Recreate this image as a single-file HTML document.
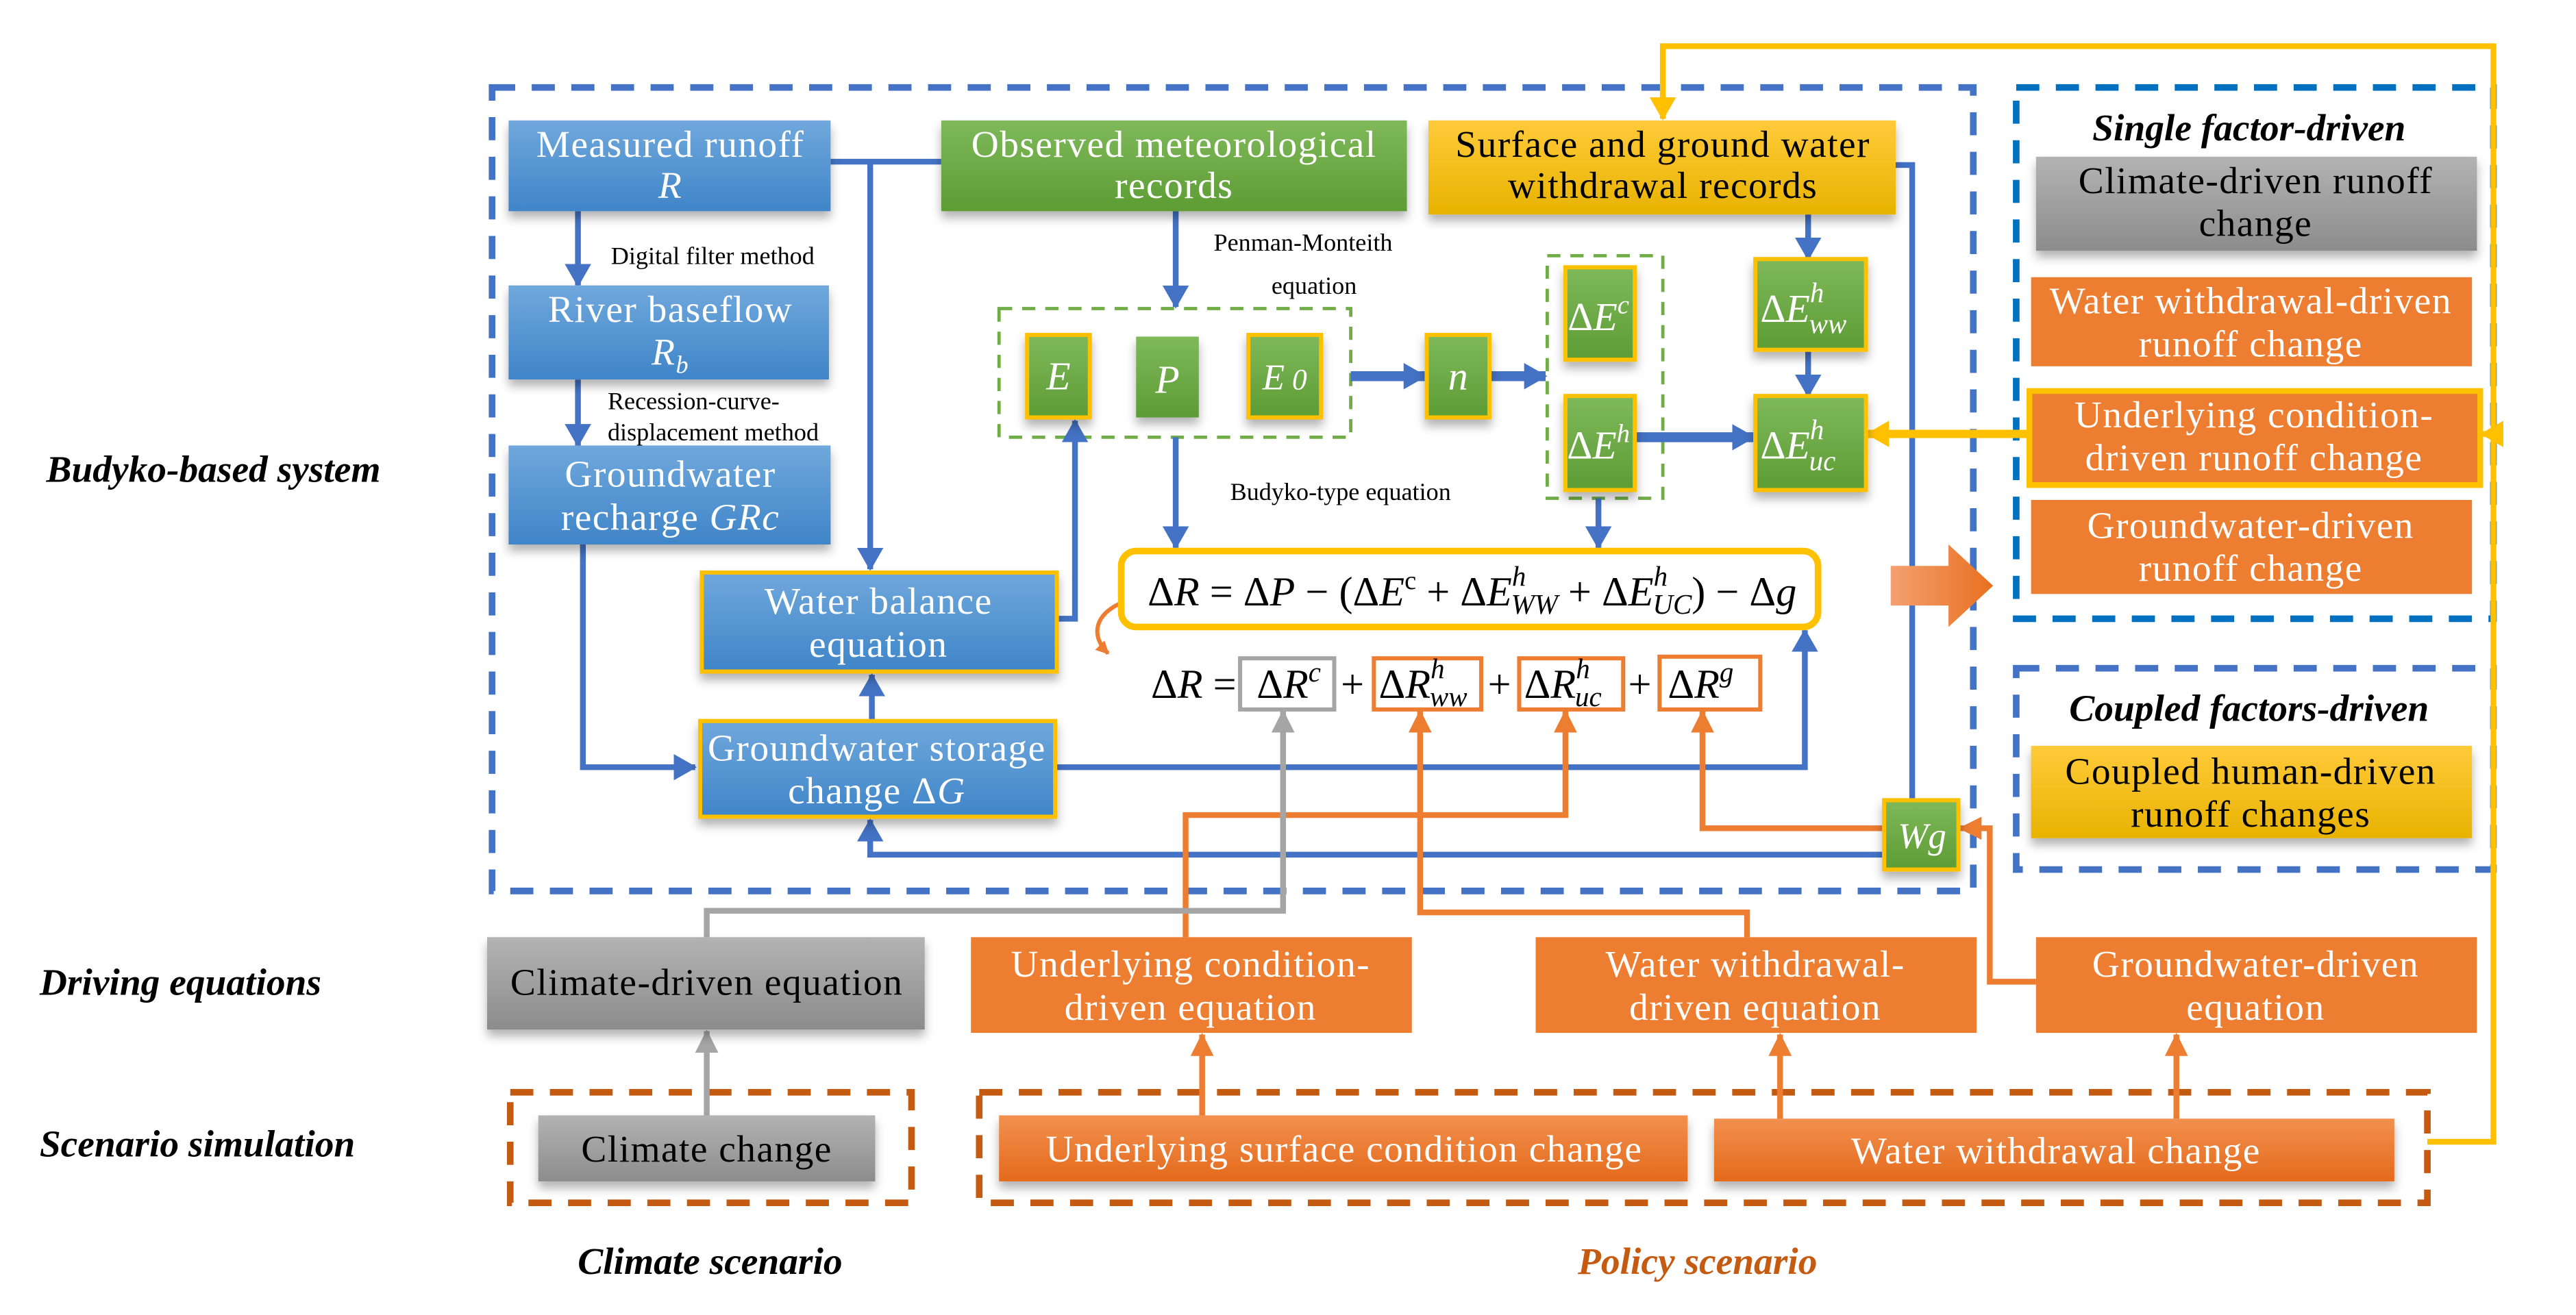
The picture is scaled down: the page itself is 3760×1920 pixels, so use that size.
<!DOCTYPE html>
<html><head><meta charset="utf-8"><style>
html,body{margin:0;padding:0;background:#fff;}
svg{display:block;}
text{font-family:"Liberation Serif",serif;}
</style></head><body>
<svg width="3760" height="1920" viewBox="0 0 1560 797" preserveAspectRatio="none" xmlns="http://www.w3.org/2000/svg">
<defs>
<linearGradient id="gb" x1="0" y1="0" x2="0" y2="1"><stop offset="0" stop-color="#70a8dc"/><stop offset="1" stop-color="#3f85c8"/></linearGradient>
<linearGradient id="gg" x1="0" y1="0" x2="0" y2="1"><stop offset="0" stop-color="#7fb95a"/><stop offset="1" stop-color="#5d9c34"/></linearGradient>
<linearGradient id="gy" x1="0" y1="0" x2="0" y2="1"><stop offset="0" stop-color="#ffca3a"/><stop offset="1" stop-color="#e8b300"/></linearGradient>
<linearGradient id="gr" x1="0" y1="0" x2="0" y2="1"><stop offset="0" stop-color="#b3b3b3"/><stop offset="1" stop-color="#8c8c8c"/></linearGradient>
<linearGradient id="go" x1="0" y1="0" x2="0" y2="1"><stop offset="0" stop-color="#f2904e"/><stop offset="1" stop-color="#e46a1c"/></linearGradient>
<linearGradient id="ga" x1="0" y1="0" x2="1" y2="0"><stop offset="0" stop-color="#f4a070"/><stop offset="1" stop-color="#e8701f"/></linearGradient>
<filter id="sh" x="-10%" y="-10%" width="120%" height="140%"><feDropShadow dx="0" dy="4" stdDeviation="3" flood-color="#000" flood-opacity="0.3"/></filter>
<marker id="ab2" markerWidth="14" markerHeight="16" refX="13" refY="8" orient="auto" markerUnits="userSpaceOnUse"><path d="M0,0L14,8L0,16z" fill="#4472c4"/></marker>
<marker id="ao" markerWidth="14" markerHeight="14" refX="13" refY="7" orient="auto" markerUnits="userSpaceOnUse"><path d="M0,0L14,7L0,14z" fill="#ed7d31"/></marker>
<marker id="ao2" markerWidth="8" markerHeight="8" refX="7" refY="4" orient="auto" markerUnits="userSpaceOnUse"><path d="M0,0L8,4L0,8z" fill="#ed7d31"/></marker>
<marker id="ag" markerWidth="14" markerHeight="14" refX="13" refY="7" orient="auto" markerUnits="userSpaceOnUse"><path d="M0,0L14,7L0,14z" fill="#a5a5a5"/></marker>
<marker id="ay" markerWidth="14" markerHeight="16" refX="13" refY="8" orient="auto" markerUnits="userSpaceOnUse"><path d="M0,0L14,8L0,16z" fill="#ffc000"/></marker>
</defs>

<rect x="298" y="53" width="897" height="487" fill="none" stroke="#4472c4" stroke-width="4" stroke-dasharray="14,10"/>
<rect x="1221" y="53" width="289" height="322" fill="none" stroke="#0070c0" stroke-width="4" stroke-dasharray="14,10"/>
<rect x="1221" y="405" width="289" height="122" fill="none" stroke="#4472c4" stroke-width="4" stroke-dasharray="14,10"/>
<rect x="309" y="662" width="243" height="67" fill="none" stroke="#c55a11" stroke-width="4" stroke-dasharray="14,10"/>
<rect x="593" y="662" width="877" height="67" fill="none" stroke="#c55a11" stroke-width="4" stroke-dasharray="14,10"/>
<rect x="605" y="187" width="213" height="78" fill="none" stroke="#70ad47" stroke-width="2" stroke-dasharray="8,6"/>
<rect x="937" y="155" width="70" height="147" fill="none" stroke="#70ad47" stroke-width="2" stroke-dasharray="8,6"/>

<g font-weight="bold" font-style="italic" font-size="23" fill="#000">
<text x="28" y="292">Budyko-based system</text>
<text x="24" y="603">Driving equations</text>
<text x="24" y="701">Scenario simulation</text>
<text x="430" y="772" text-anchor="middle">Climate scenario</text>
<text x="1028" y="772" text-anchor="middle" fill="#c55a11">Policy scenario</text>
<text x="1362" y="85" text-anchor="middle">Single factor-driven</text>
<text x="1362" y="437" text-anchor="middle">Coupled factors-driven</text>
</g>

<g stroke="#4472c4" stroke-width="3.5" fill="none">
<path d="M503,98H570"/>
<path d="M527,98V345" marker-end="url(#ab2)"/>
<path d="M350,128V173" marker-end="url(#ab2)"/>
<path d="M350,230V270" marker-end="url(#ab2)"/>
<path d="M353,330V465H421" marker-end="url(#ab2)"/>
<path d="M712,128V186" marker-end="url(#ab2)"/>
<path d="M712,265V332" marker-end="url(#ab2)"/>
<path d="M640,375H651V255" marker-end="url(#ab2)"/>
<path d="M528,437V409" marker-end="url(#ab2)"/>
<path d="M639,465H1093V382" marker-end="url(#ab2)"/>
<path d="M1140,518H527V497" marker-end="url(#ab2)"/>
<path d="M1148,100H1158V484"/>
<path d="M1095,130V157" marker-end="url(#ab2)"/>
<path d="M1095,212V240" marker-end="url(#ab2)"/>
<path d="M818,228H863" stroke-width="6" marker-end="url(#ab2)"/>
<path d="M902,228H936" stroke-width="6" marker-end="url(#ab2)"/>
<path d="M990,265H1062" stroke-width="6" marker-end="url(#ab2)"/>
<path d="M968,302V332" marker-end="url(#ab2)"/>
</g>
<g stroke="#ffc000" stroke-width="3.5" fill="none">
<path d="M1470,692H1510V28H1007V72" marker-end="url(#ay)"/>
<path d="M1510,263H1503" marker-end="url(#ay)"/>
<path d="M1228,263H1131" stroke-width="5" marker-end="url(#ay)"/>
</g>
<g stroke="#ed7d31" stroke-width="3.5" fill="none">
<path d="M718,568V494H948V431" marker-end="url(#ao)"/>
<path d="M1058,568V553H860V431" marker-end="url(#ao)"/>
<path d="M1233,595H1205V502H1187" marker-end="url(#ao)"/>
<path d="M1140,502H1031V431" marker-end="url(#ao)"/>
<path d="M728,676V627" marker-end="url(#ao)"/>
<path d="M1078,678V627" marker-end="url(#ao)"/>
<path d="M1318,678V627" marker-end="url(#ao)"/>
<path d="M680,365C663,372 660,385 671,396" stroke-width="2.5" marker-end="url(#ao2)"/>
</g>
<g stroke="#a5a5a5" stroke-width="3.5" fill="none">
<path d="M428,568V552H777V431" marker-end="url(#ag)"/>
<path d="M428,676V625" marker-end="url(#ag)"/>
</g>

<path d="M1145,343H1180V330L1207,355L1180,380V367H1145Z" fill="url(#ga)"/>

<g filter="url(#sh)">
<rect x="308" y="73" width="195" height="55" fill="url(#gb)"/>
<rect x="570" y="73" width="282" height="55" fill="url(#gg)"/>
<rect x="865" y="73" width="283" height="57" fill="url(#gy)"/>
<rect x="308" y="173" width="194" height="57" fill="url(#gb)"/>
<rect x="308" y="270" width="195" height="60" fill="url(#gb)"/>
<rect x="425" y="347" width="215" height="60" fill="url(#gb)" stroke="#ffc000" stroke-width="2.5"/>
<rect x="424" y="437" width="215" height="58" fill="url(#gb)" stroke="#ffc000" stroke-width="2.5"/>
<rect x="622" y="203" width="38" height="50" fill="url(#gg)" stroke="#ffc000" stroke-width="2.5"/>
<rect x="688" y="204" width="38" height="49" fill="url(#gg)"/>
<rect x="756" y="203" width="44" height="50" fill="url(#gg)" stroke="#ffc000" stroke-width="2.5"/>
<rect x="864" y="203" width="38" height="50" fill="url(#gg)" stroke="#ffc000" stroke-width="2.5"/>
<rect x="948" y="162" width="42" height="56" fill="url(#gg)" stroke="#ffc000" stroke-width="2.5"/>
<rect x="948" y="240" width="42" height="57" fill="url(#gg)" stroke="#ffc000" stroke-width="2.5"/>
<rect x="1063" y="157" width="67" height="55" fill="url(#gg)" stroke="#ffc000" stroke-width="2.5"/>
<rect x="1063" y="240" width="67" height="57" fill="url(#gg)" stroke="#ffc000" stroke-width="2.5"/>
<rect x="1141" y="485" width="45" height="42" fill="url(#gg)" stroke="#ffc000" stroke-width="2.5"/>
<rect x="1233" y="95" width="267" height="57" fill="url(#gr)"/>
<rect x="1230" y="452" width="267" height="56" fill="url(#gy)"/>
<rect x="295" y="568" width="265" height="56" fill="url(#gr)"/>
<rect x="326" y="676" width="204" height="40" fill="url(#gr)"/>
<rect x="605" y="676" width="417" height="40" fill="url(#go)"/>
<rect x="1038" y="678" width="412" height="38" fill="url(#go)"/>
</g>
<rect x="1230" y="168" width="267" height="54" fill="#ed7d31"/>
<rect x="1229" y="237" width="273" height="57" fill="#ed7d31" stroke="#ffc000" stroke-width="3.5"/>
<rect x="1230" y="303" width="267" height="57" fill="#ed7d31"/>
<rect x="588" y="568" width="267" height="58" fill="#ed7d31"/>
<rect x="930" y="568" width="267" height="58" fill="#ed7d31"/>
<rect x="1233" y="568" width="267" height="58" fill="#ed7d31"/>

<rect x="679" y="334" width="422" height="46" rx="9" fill="#fff" stroke="#ffc000" stroke-width="4"/>
<rect x="751" y="399" width="57" height="31" fill="#fff" stroke="#a5a5a5" stroke-width="2.5"/>
<rect x="832" y="399" width="65" height="31" fill="#fff" stroke="#ed7d31" stroke-width="2.5"/>
<rect x="920" y="399" width="63" height="31" fill="#fff" stroke="#ed7d31" stroke-width="2.5"/>
<rect x="1005" y="398" width="61" height="32" fill="#fff" stroke="#ed7d31" stroke-width="2.5"/>

<g font-size="23" letter-spacing="0.6" text-anchor="middle" fill="#fff">
<text x="406" y="95">Measured runoff</text>
<text x="406" y="120" font-style="italic">R</text>
<text x="711" y="95">Observed meteorological</text>
<text x="711" y="120">records</text>
<text x="406" y="195">River baseflow</text>
<text x="406" y="221" font-style="italic">R<tspan font-size="15" dy="5">b</tspan></text>
<text x="406" y="295">Groundwater</text>
<text x="406" y="321">recharge <tspan font-style="italic">GRc</tspan></text>
<text x="532" y="372">Water balance</text>
<text x="532" y="398">equation</text>
<text x="531" y="461">Groundwater storage</text>
<text x="531" y="487">change Δ<tspan font-style="italic">G</tspan></text>
<text x="1363" y="190">Water withdrawal-driven</text>
<text x="1363" y="216">runoff change</text>
<text x="1365" y="259">Underlying condition-</text>
<text x="1365" y="285">driven runoff change</text>
<text x="1363" y="326">Groundwater-driven</text>
<text x="1363" y="352">runoff change</text>
<text x="721" y="592">Underlying condition-</text>
<text x="721" y="618">driven equation</text>
<text x="1063" y="592">Water withdrawal-</text>
<text x="1063" y="618">driven equation</text>
<text x="1366" y="592">Groundwater-driven</text>
<text x="1366" y="618">equation</text>
<text x="814" y="704">Underlying surface condition change</text>
<text x="1245" y="705">Water withdrawal change</text>
</g>
<g text-anchor="middle" fill="#fff">
<text x="641" y="236" font-style="italic" font-size="24">E</text>
<text x="707" y="238" font-style="italic" font-size="24">P</text>
<text x="778" y="236" font-style="italic" font-size="22">E<tspan font-size="18"> 0</tspan></text>
<text x="883" y="236" font-style="italic" font-size="24">n</text>
<text x="968" y="200" font-size="24">Δ<tspan font-style="italic">E</tspan><tspan font-style="italic" font-size="16" dy="-10">c</tspan></text>
<text x="968" y="278" font-size="24">Δ<tspan font-style="italic">E</tspan><tspan font-style="italic" font-size="16" dy="-10">h</tspan></text>
<text x="1164" y="514" font-style="italic" font-size="22">Wg</text>
</g>
<g fill="#fff" font-size="24">
<text x="1066" y="195">Δ<tspan font-style="italic">E</tspan><tspan font-style="italic" font-size="17" dy="-12">h</tspan><tspan font-style="italic" font-size="17" dx="-9" dy="19">ww</tspan></text>
<text x="1066" y="278">Δ<tspan font-style="italic">E</tspan><tspan font-style="italic" font-size="17" dy="-12">h</tspan><tspan font-style="italic" font-size="17" dx="-9" dy="19">uc</tspan></text>
</g>
<g font-size="23" letter-spacing="0.6" text-anchor="middle" fill="#000">
<text x="1007" y="95">Surface and ground water</text>
<text x="1007" y="120">withdrawal records</text>
<text x="1366" y="117">Climate-driven runoff</text>
<text x="1366" y="143">change</text>
<text x="1363" y="475">Coupled human-driven</text>
<text x="1363" y="501">runoff changes</text>
<text x="428" y="603">Climate-driven equation</text>
<text x="428" y="704">Climate change</text>
</g>
<g font-size="15" fill="#000">
<text x="370" y="160">Digital filter method</text>
<text x="735" y="152">Penman-Monteith</text>
<text x="770" y="178">equation</text>
<text x="368" y="248">Recession-curve-</text>
<text x="368" y="267">displacement method</text>
<text x="745" y="303">Budyko-type equation</text>
</g>
<g font-size="25" fill="#000">
<text x="695" y="367">Δ<tspan font-style="italic">R</tspan> = Δ<tspan font-style="italic">P</tspan> − (Δ<tspan font-style="italic">E</tspan><tspan font-size="16" dy="-10">c</tspan><tspan dy="10"> + Δ</tspan><tspan font-style="italic">E</tspan><tspan font-size="17" font-style="italic" dy="-12">h</tspan><tspan font-size="17" font-style="italic" dx="-9" dy="17">WW</tspan><tspan dy="-5"> + Δ</tspan><tspan font-style="italic">E</tspan><tspan font-size="17" font-style="italic" dy="-12">h</tspan><tspan font-size="17" font-style="italic" dx="-9" dy="17">UC</tspan><tspan dy="-5">) − Δ</tspan><tspan font-style="italic">g</tspan></text>
<text x="697" y="423">Δ<tspan font-style="italic">R</tspan> =</text>
<text x="761" y="423">Δ<tspan font-style="italic">R</tspan><tspan font-size="17" font-style="italic" dy="-10">c</tspan></text>
<text x="812" y="423">+</text>
<text x="835" y="423">Δ<tspan font-style="italic">R</tspan><tspan font-size="17" font-style="italic" dy="-12">h</tspan><tspan font-size="17" font-style="italic" dx="-9" dy="17">ww</tspan></text>
<text x="901" y="423">+</text>
<text x="923" y="423">Δ<tspan font-style="italic">R</tspan><tspan font-size="17" font-style="italic" dy="-12">h</tspan><tspan font-size="17" font-style="italic" dx="-9" dy="17">uc</tspan></text>
<text x="986" y="423">+</text>
<text x="1010" y="423">Δ<tspan font-style="italic">R</tspan><tspan font-size="17" font-style="italic" dy="-10">g</tspan></text>
</g>
</svg>
</body></html>
